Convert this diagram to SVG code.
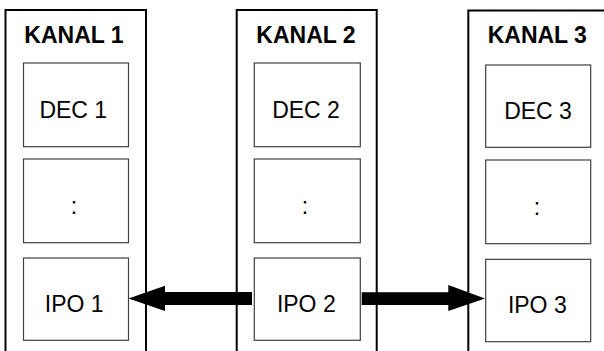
<svg xmlns="http://www.w3.org/2000/svg" width="604" height="351" viewBox="0 0 604 351">
<style>
.outer{fill:none;stroke:#000;stroke-width:2}
.inner{fill:#fff;stroke:#404040;stroke-width:1.2}
.title{font-family:"Liberation Sans",Arial,sans-serif;font-weight:bold;font-size:23px;text-anchor:middle;fill:#000}
.lbl{font-family:"Liberation Sans",Arial,sans-serif;font-size:23px;text-anchor:middle;fill:#000}
</style>
<rect width="604" height="351" fill="#fff"/>
<g id="kanal1">
<rect class="outer" x="5.5" y="10" width="140.5" height="360"/>
<text class="title" x="74" y="43.3">KANAL 1</text>
<g id="dec1"><rect class="inner" x="23.5" y="63" width="105" height="83.7"/><text class="lbl" x="73.3" y="118.3">DEC 1</text></g>
<g id="dots1"><rect class="inner" x="23.5" y="159" width="105" height="83.7"/><text class="lbl" x="74" y="214">:</text></g>
<g id="ipo1"><rect class="inner" x="23.5" y="258" width="105" height="82.3"/><text class="lbl" x="74.2" y="311.7">IPO 1</text></g>
</g>
<g id="kanal2">
<rect class="outer" x="236.7" y="10" width="140" height="360"/>
<text class="title" x="306" y="43.3">KANAL 2</text>
<g id="dec2"><rect class="inner" x="254.3" y="63" width="106" height="83.7"/><text class="lbl" x="306" y="118.3">DEC 2</text></g>
<g id="dots2"><rect class="inner" x="254.3" y="159" width="106" height="83.7"/><text class="lbl" x="305" y="214">:</text></g>
<g id="ipo2"><rect class="inner" x="254.3" y="258" width="106" height="82.3"/><text class="lbl" x="306.3" y="311.7">IPO 2</text></g>
</g>
<g id="kanal3">
<rect class="outer" x="468.3" y="10.5" width="160" height="360"/>
<text class="title" x="537.3" y="43.3">KANAL 3</text>
<g id="dec3"><rect class="inner" x="485.7" y="65" width="105" height="82.3"/><text class="lbl" x="538" y="119">DEC 3</text></g>
<g id="dots3"><rect class="inner" x="485.7" y="160" width="105" height="83.7"/><text class="lbl" x="537" y="215">:</text></g>
<g id="ipo3"><rect class="inner" x="485.7" y="259.3" width="105" height="82.4"/><text class="lbl" x="537.3" y="313.3">IPO 3</text></g>
</g>
<g id="connectors" fill="#000">
<polygon points="252,292 165,292 165,285.7 128.5,298.5 165,311 165,305 252,305"/>
<polygon points="361.7,292.3 448.3,292.3 448.3,285 485,298.5 448.3,311 448.3,305 361.7,305"/>
</g>
</svg>
